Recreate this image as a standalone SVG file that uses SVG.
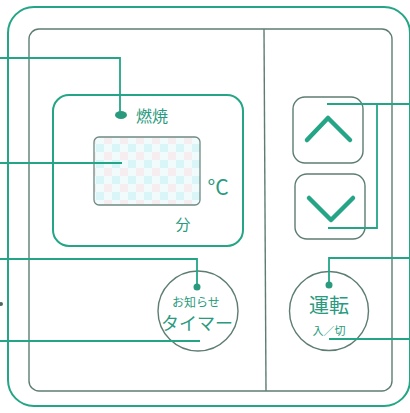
<svg xmlns="http://www.w3.org/2000/svg" width="410" height="413" viewBox="0 0 410 413">
<style>
.g{fill:none;stroke:#23a586;stroke-width:2}
.k{fill:none;stroke:#5d7d73;stroke-width:1.4}
.ld{fill:none;stroke:#23a586;stroke-width:1.8}
.t{font-family:"Noto Sans CJK JP","Liberation Sans",sans-serif;fill:#2a9a7e}
.dot{fill:#2a9a7e}
</style>
<defs>
<pattern id="lcd" width="16" height="16" patternUnits="userSpaceOnUse">
<rect width="16" height="16" fill="#f1fbfb"/>
<rect width="8" height="8" fill="#daf5f7"/>
<rect x="8" y="8" width="8" height="8" fill="#f6edf1"/>
</pattern>
</defs>
<rect width="410" height="413" fill="#ffffff"/>
<g id="panel">
<rect class="g" x="8" y="7" width="402" height="399" rx="26"/>
<rect class="k" x="29" y="29" width="363" height="362" rx="10"/>
<line class="k" x1="264" y1="29" x2="266" y2="391"/>
</g>
<g id="display">
<rect class="g" x="53" y="95" width="190" height="151" rx="16"/>
<rect x="94" y="137" width="106" height="68" rx="5" fill="url(#lcd)" stroke="#6f8a82" stroke-width="1.3"/>
<text class="t" x="218" y="195" font-size="21" text-anchor="middle" fill="#3a8b76">°C</text>
<text class="t" x="183" y="230" font-size="15" text-anchor="middle">分</text>
</g>
<g id="burn">
<ellipse cx="121" cy="115" rx="6" ry="4" class="dot"/>
<text class="t" x="136" y="122" font-size="16">燃焼</text>
</g>
<g id="up">
<rect class="k" x="293" y="97" width="70" height="66" rx="12"/>
<polyline points="307,140 328,118 350,140" fill="none" stroke="#23a586" stroke-width="4.5" stroke-linecap="round" stroke-linejoin="round"/>
</g>
<g id="down">
<rect class="k" x="295" y="174" width="70" height="65" rx="12"/>
<polyline points="309,198 331,220 353,198" fill="none" stroke="#23a586" stroke-width="4.5" stroke-linecap="round" stroke-linejoin="round"/>
</g>
<g id="timer">
<circle class="k" cx="198" cy="311" r="40"/>
<text class="t" x="196" y="307" font-size="12" text-anchor="middle">お知らせ</text>
<text class="t" x="197" y="330" font-size="18" text-anchor="middle">タイマー</text>
</g>
<g id="power">
<circle class="k" cx="329" cy="311" r="39.5"/>
<text class="t" x="329" y="313" font-size="20" text-anchor="middle">運転</text>
<text class="t" x="329" y="335" font-size="11" text-anchor="middle">入／切</text>
</g>
<g id="connectors">
<polyline class="ld" points="0,58 120,58 120,112"/>
<line class="ld" x1="0" y1="163" x2="122" y2="163"/>
<polyline class="ld" points="0,259 197,259 197,287"/>
<circle cx="197" cy="287" r="3.5" class="dot"/>
<line class="ld" x1="0" y1="341" x2="200" y2="341"/>
<circle cx="1" cy="304" r="2" fill="#4a6a60"/>
<line class="ld" x1="410" y1="104" x2="327" y2="104"/>
<polyline class="ld" points="377,104 377,228 328,228"/>
<polyline class="ld" points="410,258 329,258 329,285"/>
<circle cx="329" cy="285" r="3.5" class="dot"/>
<line class="ld" x1="410" y1="339" x2="329" y2="339"/>
</g>
</svg>
